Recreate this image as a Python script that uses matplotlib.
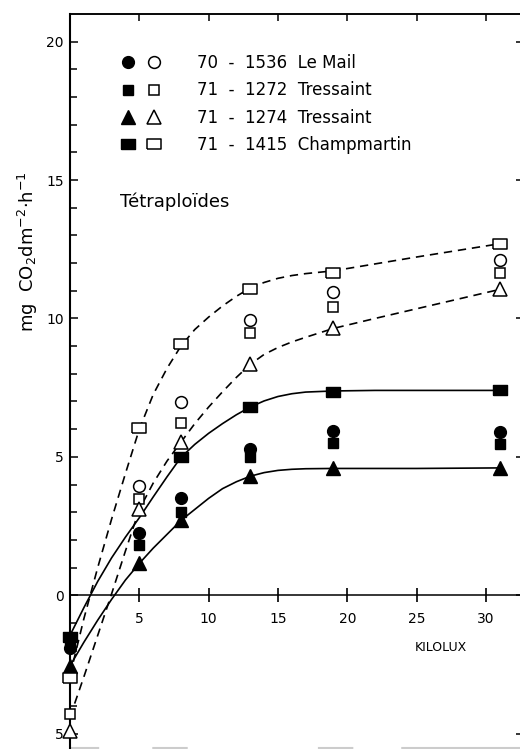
import numpy as np
import matplotlib.pyplot as plt
from matplotlib.legend_handler import HandlerTuple

plt.rcParams['font.family'] = ['DejaVu Sans']

# light intensity (kilolux) of the measurements
kilolux = [0, 5, 8, 13, 19, 31]

# filled symbols
mail_f = [-1.9, 2.25, 3.5, 5.3, 5.95, 5.9]
tres72_f = [-1.6, 1.8, 3.0, 5.0, 5.5, 5.45]
tres74_f = [-2.55, 1.15, 2.7, 4.3, 4.58, 4.6]
champ_f = [-1.5, np.nan, 4.98, 6.8, 7.35, 7.4]

# open symbols
mail_o = [np.nan, 3.93, 6.98, 9.93, 10.97, 12.1]
tres72_o = [-4.3, 3.47, 6.22, 9.46, 10.43, 11.65]
tres74_o = [-4.9, 3.1, 5.53, 8.34, 9.64, 11.05]
champ_o = [-3.0, 6.03, 9.06, 11.08, 11.64, 12.7]

# hand drawn curves
curve_x = [0, 1, 2, 3, 4, 5, 6, 7, 8, 9, 10, 11, 12, 13, 14, 15, 16, 17, 19, 22, 25, 28, 31]
curve_champ_o = [-2.9, -0.85, 1.0, 2.75, 4.4, 6.0, 7.25, 8.2, 9.0, 9.6, 10.05, 10.45, 10.8,
                 11.1, 11.3, 11.45, 11.55, 11.62, 11.72, 11.97, 12.22, 12.46, 12.7]
curve_tres74_o = [-4.4, -2.95, -1.45, 0.05, 1.6, 3.1, 4.05, 4.85, 5.53, 6.2, 6.8, 7.35, 7.87,
                  8.34, 8.7, 8.95, 9.15, 9.32, 9.64, 10.0, 10.35, 10.7, 11.05]
curve_champ_f = [-1.45, -0.45, 0.5, 1.35, 2.1, 2.8, 3.55, 4.28, 4.98, 5.45, 5.85, 6.2, 6.52,
                 6.8, 7.02, 7.18, 7.28, 7.34, 7.38, 7.4, 7.4, 7.4, 7.4]
curve_tres74_f = [-2.55, -1.7, -0.9, -0.15, 0.55, 1.15, 1.7, 2.2, 2.7, 3.1, 3.5, 3.85, 4.1,
                  4.3, 4.43, 4.51, 4.55, 4.57, 4.58, 4.58, 4.58, 4.59, 4.6]

labels = ['70  -  1536  Le Mail', '71  -  1272  Tressaint',
          '71  -  1274  Tressaint', '71  -  1415  Champmartin']

yticks = [-5, 0, 5, 10, 15, 20]
ytick_labels = ['5', '0', '5', '10', '15', '20']
xticks = [5, 10, 15, 20, 25, 30]

# wide rectangle used for Champmartin
rect = [(-1, -0.62), (1, -0.62), (1, 0.62), (-1, 0.62), (-1, -0.62)]

fig = plt.figure(figsize=(5.2, 7.49), dpi=100)
ax = fig.add_axes([70 / 520, 1 / 749, 452 / 520, 734 / 749])
ax.set_xlim(0, 32.6)
ax.set_ylim(-5.52, 21.0)

lw = 1.2
ax.plot(curve_x, curve_champ_o, color='black', lw=lw, dashes=(5, 3.5))
ax.plot(curve_x, curve_tres74_o, color='black', lw=lw, dashes=(5, 3.5))
ax.plot(curve_x, curve_champ_f, color='black', lw=lw)
ax.plot(curve_x, curve_tres74_f, color='black', lw=lw)

styles = [('o', 8.5), ('s', 7), ('^', 10), (rect, 10.5)]
filled = [mail_f, tres72_f, tres74_f, champ_f]
opened = [mail_o, tres72_o, tres74_o, champ_o]

handles = []
for (m, ms), yf, yo in zip(styles, filled, opened):
    hf, = ax.plot(kilolux, yf, ls='none', marker=m, ms=ms, mfc='black',
                  mec='black', mew=1, zorder=4, clip_on=False)
    ho, = ax.plot(kilolux, yo, ls='none', marker=m, ms=ms, mfc='white',
                  mec='black', mew=1.1, zorder=4, clip_on=False)
    handles.append((hf, ho))

leg = ax.legend(handles, labels, handler_map={tuple: HandlerTuple(ndivide=None, pad=0.7)},
                loc='upper left', bbox_to_anchor=(51 / 452, 1 - 40 / 734),
                frameon=False, fontsize=12, handlelength=2.4, handletextpad=2.15,
                labelspacing=0.56, borderpad=0, borderaxespad=0)

ax.text(3.6, 14.2, 'Tétraploïdes', fontsize=13, va='center', ha='left')
ax.text(24.9, -1.9, 'KILOLUX', fontsize=9, va='center', ha='left')
fig.text(28 / 520, 1 - 252 / 749, 'mg  CO$_2$dm$^{-2}$·h$^{-1}$', rotation=90,
         fontsize=13, ha='center', va='center')

# axes frame: y axis on the left, x axis along zero
ax.spines['bottom'].set_position(('data', 0))
ax.spines['bottom'].set_linewidth(1.1)
ax.spines['left'].set_linewidth(1.5)
ax.spines['top'].set_linewidth(1.1)
ax.spines['right'].set_visible(False)
# faint, broken lower frame line of the scan
ax.plot([0, 1], [0, 0], transform=ax.transAxes, color='0.8', lw=1.5,
        dashes=(14, 25.5, 17, 62.5, 17, 23, 59, 10), clip_on=False)

ax.set_xticks(xticks)
ax.set_xticklabels([str(v) for v in xticks])
ax.tick_params(axis='x', direction='inout', length=9.5, width=1.2, pad=7, labelsize=10)
ax.set_yticks(yticks)
ax.set_yticklabels(ytick_labels)
ax.set_yticks(range(-5, 21), minor=True)
ax.tick_params(axis='y', which='both', direction='in', width=1.1, pad=4.5, labelsize=10)
ax.tick_params(axis='y', which='major', length=6)
ax.tick_params(axis='y', which='minor', length=5)

top = ax.secondary_xaxis('top')
top.set_xticks(xticks)
top.tick_params(direction='in', length=5, width=1.1, labeltop=False)
top.spines['top'].set_linewidth(1.1)
right = ax.secondary_yaxis('right')
right.set_yticks(yticks)
right.tick_params(direction='in', length=4, width=1.1, labelright=False)
right.spines['right'].set_visible(False)

fig.savefig('out.png', dpi=100)
